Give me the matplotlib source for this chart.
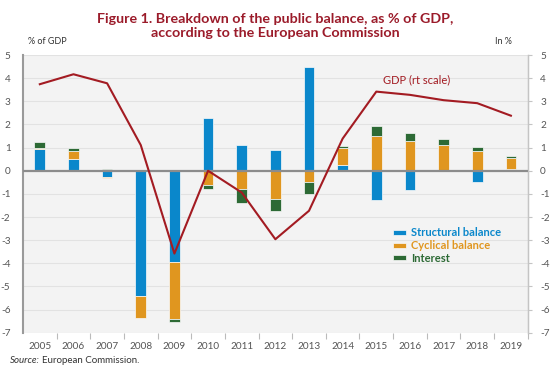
import matplotlib
matplotlib.use("Agg")
import matplotlib.pyplot as plt
import numpy as np

years = [str(y) for y in range(2005, 2020)]
structural = [0.95, 0.50, -0.27, -5.42, -3.95, 2.30, 1.10, 0.88, 4.48, 0.25, -1.25, -0.85, 0.05, -0.50, 0.06]
cyclical = [0.05, 0.35, -0.06, -0.95, -2.45, -0.60, -0.78, -1.20, -0.50, 0.75, 1.52, 1.30, 1.05, 0.85, 0.50]
interest = [0.25, 0.15, 0.06, 0.00, -0.15, -0.18, -0.60, -0.52, -0.50, 0.05, 0.43, 0.32, 0.28, 0.18, 0.08]
gdp = [3.74, 4.17, 3.78, 1.11, -3.58, 0.00, -0.94, -2.96, -1.73, 1.39, 3.42, 3.28, 3.05, 2.92, 2.38]

series = [("Structural balance", structural, "#0a87cb"),
          ("Cyclical balance", cyclical, "#e0961f"),
          ("Interest", interest, "#2d6a35")]
line_color = "#a31b22"
title_color = "#9b1b2a"
tick_color = "#555555"

plt.rcParams['font.family'] = ['Lato', 'DejaVu Sans']

fig = plt.figure(figsize=(5.5, 3.72), dpi=100)
ax = fig.add_axes([0.0418, 0.1056, 0.9177, 0.7464])
ax.set_facecolor("#f3f3f3")

x = np.arange(len(years))
pos_base = np.zeros(len(years))
neg_base = np.zeros(len(years))
handles = []
for name, vals, col in series:
    v = np.array(vals)
    bottoms = np.where(v >= 0, pos_base, neg_base)
    b = ax.bar(x, v, width=0.32, bottom=bottoms, color=col, edgecolor="#fafafa",
               linewidth=0.5, zorder=3, label=name)
    handles.append(b)
    pos_base = pos_base + np.where(v >= 0, v, 0)
    neg_base = neg_base + np.where(v < 0, v, 0)

ax.set_xlim(-0.5, len(years) - 0.5)
ax.set_ylim(-7, 5)
ax.set_yticks(range(-7, 6))
ax.set_yticklabels([str(v) for v in range(-7, 6)])
for v in range(-7, 6):
    if v != 0:
        ax.axhline(v, color="#e2e2e2", lw=0.8, zorder=1)
ax.axhline(0, color="#8c8c8c", lw=1.6, zorder=4)

ax.set_xticks(x)
ax.set_xticklabels(years)
ax.set_xticks(np.arange(-0.5, len(years) - 0.5) + 1, minor=True)
ax.tick_params(axis='x', which='major', length=0, pad=7, labelsize=7.2, labelcolor=tick_color)
ax.tick_params(axis='x', which='minor', length=4, width=0.8, color="#bbbbbb", direction='out')
ax.tick_params(axis='y', length=0, pad=9, labelsize=7.2, labelcolor=tick_color)

for s in ['top', 'bottom']:
    ax.spines[s].set_visible(False)
ax.spines['left'].set_color("#9a9a9a")
ax.spines['left'].set_linewidth(1.5)
ax.spines['right'].set_color("#c4c4c4")
ax.spines['right'].set_linewidth(1.0)

ax2 = ax.twinx()
ax2.set_ylim(-7, 5)
ax2.set_yticks(range(-7, 6))
ax2.set_yticklabels([str(v) for v in range(-7, 6)])
ax2.tick_params(axis='y', length=3, width=0.8, color="#c4c4c4", pad=6, labelsize=7.2, labelcolor=tick_color)
for s in ['top', 'bottom', 'left']:
    ax2.spines[s].set_visible(False)
ax2.spines['right'].set_color("#c4c4c4")
ax2.plot(x, gdp, color=line_color, lw=1.5, zorder=5)
ax2.text(10.2, 3.95, "GDP (rt scale)", color=line_color, fontsize=8, ha='left', va='center')

leg = ax2.legend(handles, [s[0] for s in series], loc='upper left',
                 bbox_to_anchor=(0.725, 0.395), frameon=False, fontsize=8,
                 handlelength=1.1, handleheight=0.35, handletextpad=0.5,
                 labelspacing=0.15, borderaxespad=0)
for t, (_, _, col) in zip(leg.get_texts(), series):
    t.set_color(col)
    t.set_fontweight('bold')

fig.text(0.5, 0.965, "Figure 1. Breakdown of the public balance, as % of GDP,\naccording to the European Commission",
         ha='center', va='top', color=title_color, fontsize=10.3, fontweight='bold', linespacing=1.15)
fig.text(0.051, 0.877, "% of GDP", fontsize=6.5, color="#333333", ha='left', va='bottom')
fig.text(0.93, 0.877, "In %", fontsize=6.5, color="#333333", ha='right', va='bottom')
src1 = fig.text(0.018, 0.025, "Source:", fontsize=7, color="#333333", style='italic')
fig.canvas.draw()
bb = src1.get_window_extent()
fig.text((bb.x1 + 2) / fig.bbox.width, 0.025, "European Commission.", fontsize=7, color="#333333")

fig.savefig("out.png", dpi=100)
